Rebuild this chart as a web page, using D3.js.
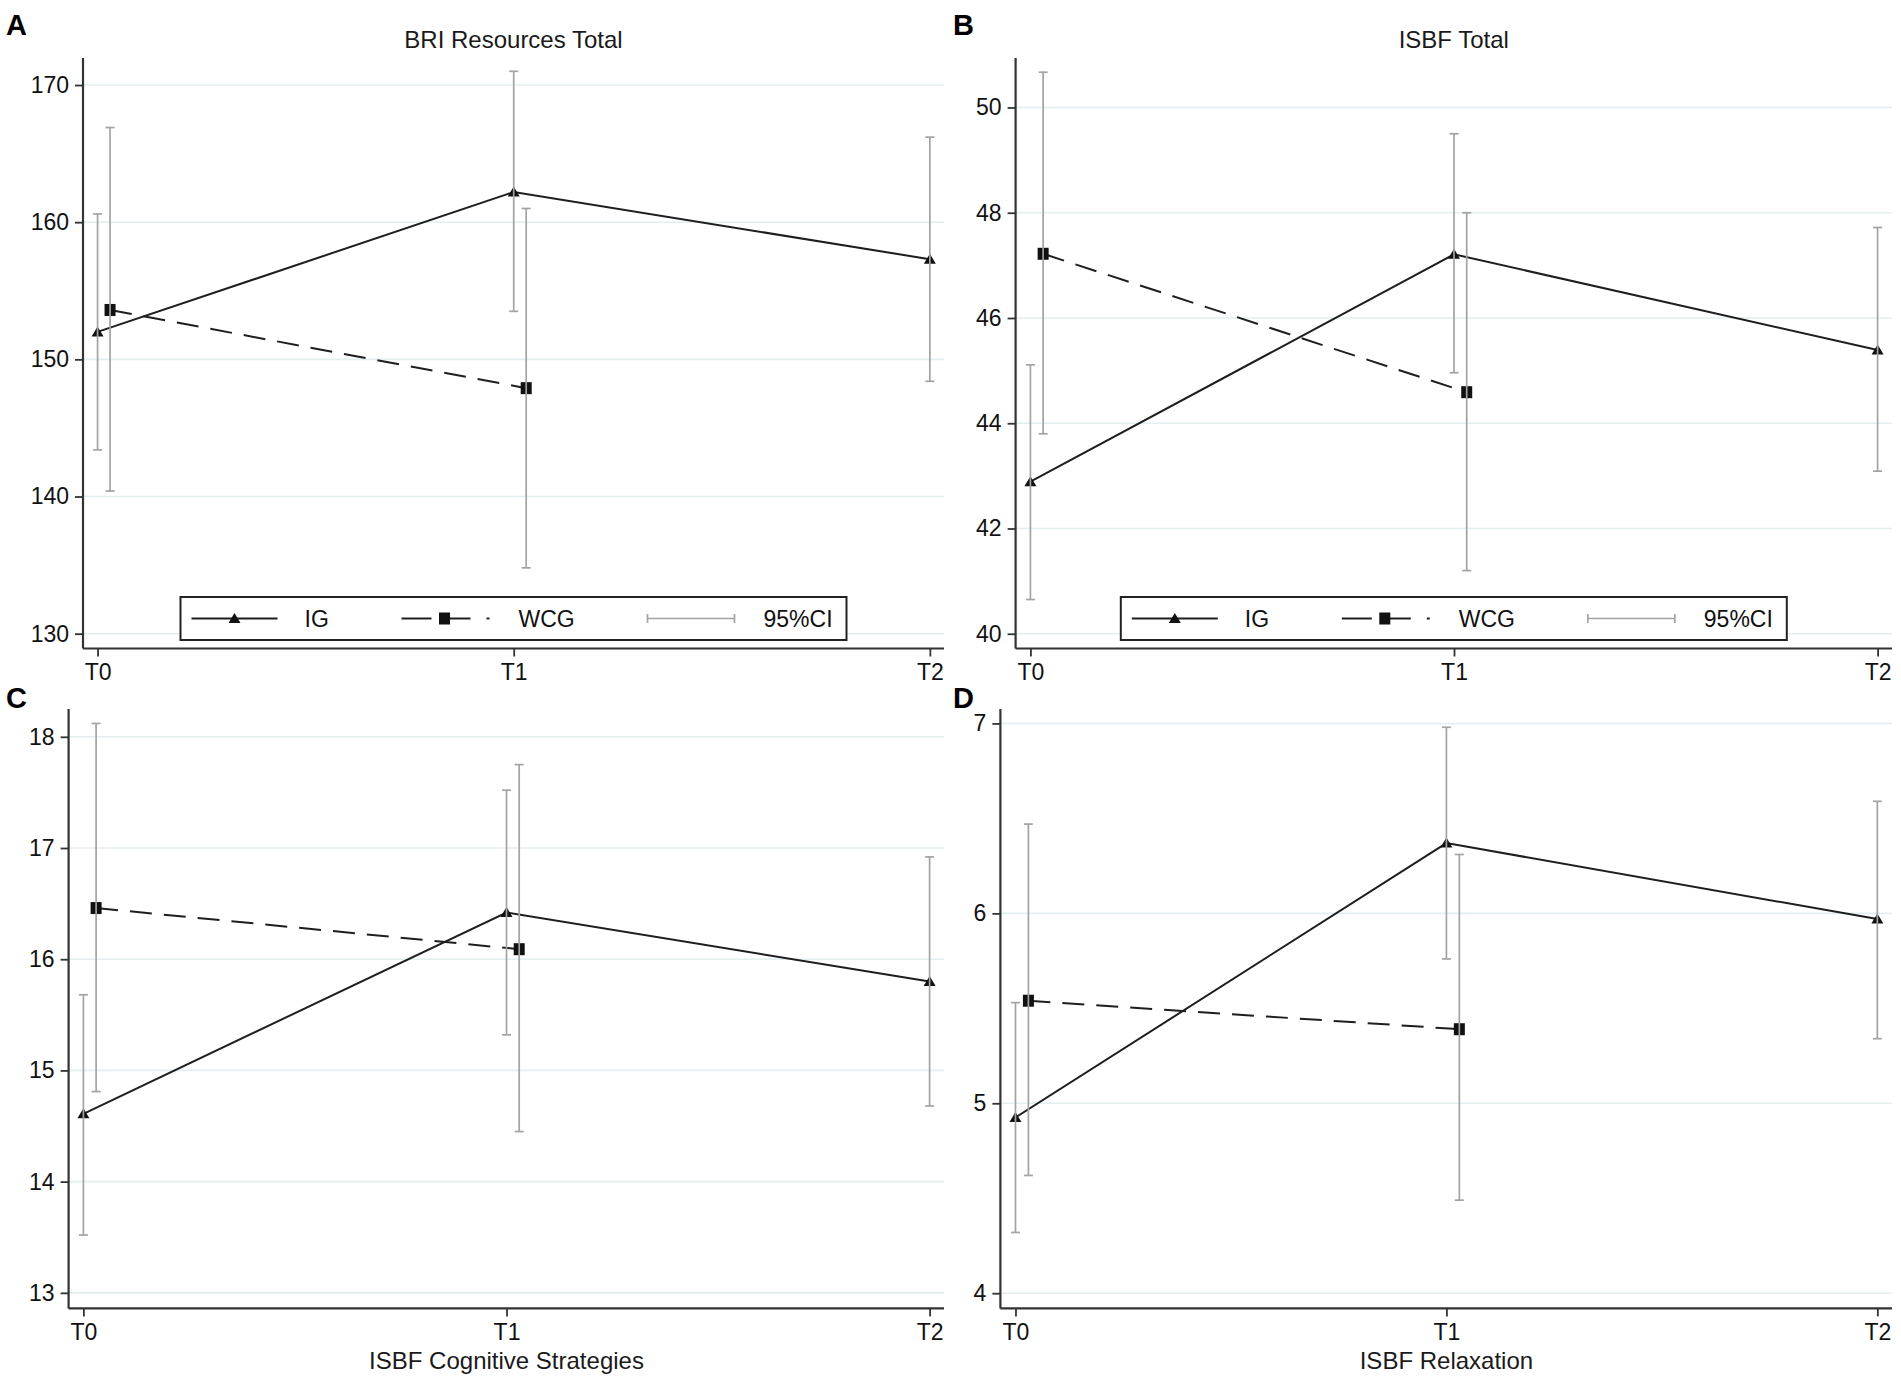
<!DOCTYPE html>
<html>
<head>
<meta charset="utf-8">
<script src="https://cdn.jsdelivr.net/npm/d3@7"></script>
<style>
body{margin:0;background:#fff;}
text{font-family:"Liberation Sans",Arial,sans-serif;}
</style>
</head>
<body>
<div id="chart"></div>
<script>
var times = ["T0","T1","T2"];

// BRI Resources Total
var briIG = [152.0, 162.2, 157.3];
var briIGLo = [143.4, 153.5, 148.4];
var briIGHi = [160.6, 171.0, 166.2];
var briWCG = [153.6, 147.9];
var briWCGLo = [140.4, 134.8];
var briWCGHi = [166.9, 161.0];
var briTicks = [130, 140, 150, 160, 170];

// ISBF Total
var isbfIG = [42.89, 47.21, 45.39];
var isbfIGLo = [40.65, 44.96, 43.09];
var isbfIGHi = [45.11, 49.50, 47.72];
var isbfWCG = [47.22, 44.59];
var isbfWCGLo = [43.80, 41.20];
var isbfWCGHi = [50.67, 48.00];
var isbfTicks = [40, 42, 44, 46, 48, 50];

// ISBF Cognitive Strategies
var cogIG = [14.61, 16.42, 15.80];
var cogIGLo = [13.52, 15.32, 14.68];
var cogIGHi = [15.68, 17.52, 16.92];
var cogWCG = [16.46, 16.09];
var cogWCGLo = [14.81, 14.45];
var cogWCGHi = [18.12, 17.75];
var cogTicks = [13, 14, 15, 16, 17, 18];

// ISBF Relaxation
var relIG = [4.925, 6.37, 5.97];
var relIGLo = [4.32, 5.76, 5.34];
var relIGHi = [5.53, 6.98, 6.59];
var relWCG = [5.54, 5.39];
var relWCGLo = [4.62, 4.49];
var relWCGHi = [6.47, 6.31];
var relTicks = [4, 5, 6, 7];

var legendLabels = ["IG", "WCG", "95%CI"];

var w = 1901, h = 1379;
var svg = d3.select("#chart").append("svg")
  .attr("width", w).attr("height", h);

var panels = [
  {letter:"A", lx:6, ly:35, title:"BRI Resources Total", xtitle:null,
   left:83, right:944, top:58, bottom:648.5, dom:[128.92,171.97], ticks:briTicks,
   ig:briIG, igLo:briIGLo, igHi:briIGHi, wcg:briWCG, wcgLo:briWCGLo, wcgHi:briWCGHi, legend:true},
  {letter:"B", lx:953, ly:35, title:"ISBF Total", xtitle:null,
   left:1015.6, right:1892, top:58, bottom:648.5, dom:[39.72,50.94], ticks:isbfTicks,
   ig:isbfIG, igLo:isbfIGLo, igHi:isbfIGHi, wcg:isbfWCG, wcgLo:isbfWCGLo, wcgHi:isbfWCGHi, legend:true},
  {letter:"C", lx:6, ly:708, title:null, xtitle:"ISBF Cognitive Strategies",
   left:68.6, right:944, top:709, bottom:1308.4, dom:[12.86,18.25], ticks:cogTicks,
   ig:cogIG, igLo:cogIGLo, igHi:cogIGHi, wcg:cogWCG, wcgLo:cogWCGLo, wcgHi:cogWCGHi, legend:false},
  {letter:"D", lx:953, ly:708, title:null, xtitle:"ISBF Relaxation",
   left:1000.4, right:1892, top:709, bottom:1308.4, dom:[3.92,7.076], ticks:relTicks,
   ig:relIG, igLo:relIGLo, igHi:relIGHi, wcg:relWCG, wcgLo:relWCGLo, wcgHi:relWCGHi, legend:false}
];

var ciColor = "#a3a3a3";
var lineColor = "#1e1e1e";

function drawTri(g, x, y){
  g.append("path").attr("d", "M" + (x-6) + "," + (y+4.5) + "L" + x + "," + (y-5.5) + "L" + (x+6) + "," + (y+4.5) + "Z")
   .attr("fill", "#111");
}
function drawSq(g, x, y){
  g.append("rect").attr("x", x-5.5).attr("y", y-6).attr("width", 11).attr("height", 12)
   .attr("fill", "#111");
}
function drawCI(g, x, lo, hi){
  g.append("line").attr("x1", x).attr("x2", x).attr("y1", lo).attr("y2", hi)
   .attr("stroke", ciColor).attr("stroke-width", 1.7);
  [lo, hi].forEach(function(v){
    g.append("line").attr("x1", x-4.5).attr("x2", x+4.5).attr("y1", v).attr("y2", v)
     .attr("stroke", ciColor).attr("stroke-width", 1.7);
  });
}

panels.forEach(function(p){
  var g = svg.append("g");
  var x = d3.scaleLinear().domain([-0.035, 2.034]).range([p.left, p.right]);
  var y = d3.scaleLinear().domain(p.dom).range([p.bottom, p.top]);
  var off = 0.03;

  // panel letter
  g.append("text").attr("x", p.lx).attr("y", p.ly).text(p.letter)
   .attr("font-size", 29).attr("font-weight", "bold").attr("fill", "#000");

  if (p.title) {
    g.append("text").attr("x", (p.left + p.right)/2).attr("y", 48)
     .attr("text-anchor", "middle").attr("font-size", 24).attr("fill", "#1a1a1a").text(p.title);
  }
  if (p.xtitle) {
    g.append("text").attr("x", x(1)).attr("y", 1369)
     .attr("text-anchor", "middle").attr("font-size", 24).attr("fill", "#1a1a1a").text(p.xtitle);
  }

  // gridlines
  g.selectAll(".grid").data(p.ticks).enter().append("line")
   .attr("x1", p.left).attr("x2", p.right)
   .attr("y1", function(d){ return y(d); }).attr("y2", function(d){ return y(d); })
   .attr("stroke", "#e3eef0").attr("stroke-width", 1.6);

  // axes
  var yAxis = d3.axisLeft(y).tickValues(p.ticks).tickSize(8).tickPadding(6).tickFormat(d3.format("d"));
  var ya = g.append("g").attr("transform", "translate(" + p.left + ",0)").call(yAxis);
  ya.select(".domain").attr("d", "M0," + p.top + "V" + p.bottom).attr("stroke", "#333").attr("stroke-width", 2.2);

  var xAxis = d3.axisBottom(x).tickValues([0,1,2]).tickSize(8).tickPadding(7)
    .tickFormat(function(d){ return times[d]; });
  var xa = g.append("g").attr("transform", "translate(0," + p.bottom + ")").call(xAxis);
  xa.select(".domain").attr("d", "M" + p.left + ",0H" + p.right).attr("stroke", "#333").attr("stroke-width", 2.2);

  [ya, xa].forEach(function(a){
    a.selectAll(".tick line").attr("stroke", "#333").attr("stroke-width", 1.8);
    a.selectAll(".tick text").attr("font-size", 23).attr("fill", "#111")
     .attr("font-family", "'Liberation Sans',Arial,sans-serif");
  });

  // IG solid line
  var igLine = d3.line().x(function(d, i){ return x(i); }).y(function(d){ return y(d); });
  g.append("path").attr("d", igLine(p.ig)).attr("fill", "none")
   .attr("stroke", lineColor).attr("stroke-width", 2);

  // WCG dashed line
  var wcgLine = d3.line().x(function(d, i){ return x(i + off); }).y(function(d){ return y(d); });
  g.append("path").attr("d", wcgLine(p.wcg)).attr("fill", "none")
   .attr("stroke", lineColor).attr("stroke-width", 2).attr("stroke-dasharray", "22,12");

  // markers
  p.ig.forEach(function(v, i){ drawTri(g, x(i), y(v)); });
  p.wcg.forEach(function(v, i){ drawSq(g, x(i + off), y(v)); });

  // confidence intervals on top
  p.ig.forEach(function(v, i){ drawCI(g, x(i), y(p.igLo[i]), y(p.igHi[i])); });
  p.wcg.forEach(function(v, i){ drawCI(g, x(i + off), y(p.wcgLo[i]), y(p.wcgHi[i])); });

  if (p.legend) {
    var bw = 666, bh = 43;
    var bx = (p.left + p.right)/2 - bw/2, by = 597;
    var lg = g.append("g").attr("transform", "translate(" + bx + "," + by + ")");
    lg.append("rect").attr("width", bw).attr("height", bh)
     .attr("fill", "#fff").attr("stroke", "#222").attr("stroke-width", 2);
    var cy = bh/2;
    // IG key
    lg.append("line").attr("x1", 11).attr("x2", 97).attr("y1", cy).attr("y2", cy)
     .attr("stroke", lineColor).attr("stroke-width", 2);
    drawTri(lg, 54, cy);
    // WCG key
    lg.append("line").attr("x1", 221).attr("x2", 251).attr("y1", cy).attr("y2", cy)
     .attr("stroke", lineColor).attr("stroke-width", 2);
    lg.append("line").attr("x1", 264).attr("x2", 290).attr("y1", cy).attr("y2", cy)
     .attr("stroke", lineColor).attr("stroke-width", 2);
    lg.append("line").attr("x1", 306).attr("x2", 309).attr("y1", cy).attr("y2", cy)
     .attr("stroke", lineColor).attr("stroke-width", 2);
    drawSq(lg, 264, cy);
    // CI key
    lg.append("line").attr("x1", 467).attr("x2", 554).attr("y1", cy).attr("y2", cy)
     .attr("stroke", ciColor).attr("stroke-width", 1.7);
    [467, 554].forEach(function(v){
      lg.append("line").attr("x1", v).attr("x2", v).attr("y1", cy-4.5).attr("y2", cy+4.5)
       .attr("stroke", ciColor).attr("stroke-width", 1.7);
    });
    var tx = [124, 338, 583];
    legendLabels.forEach(function(t, i){
      lg.append("text").attr("x", tx[i]).attr("y", cy + 8).attr("font-size", 23)
       .attr("fill", "#111").text(t);
    });
  }
});
</script>
</body>
</html>
